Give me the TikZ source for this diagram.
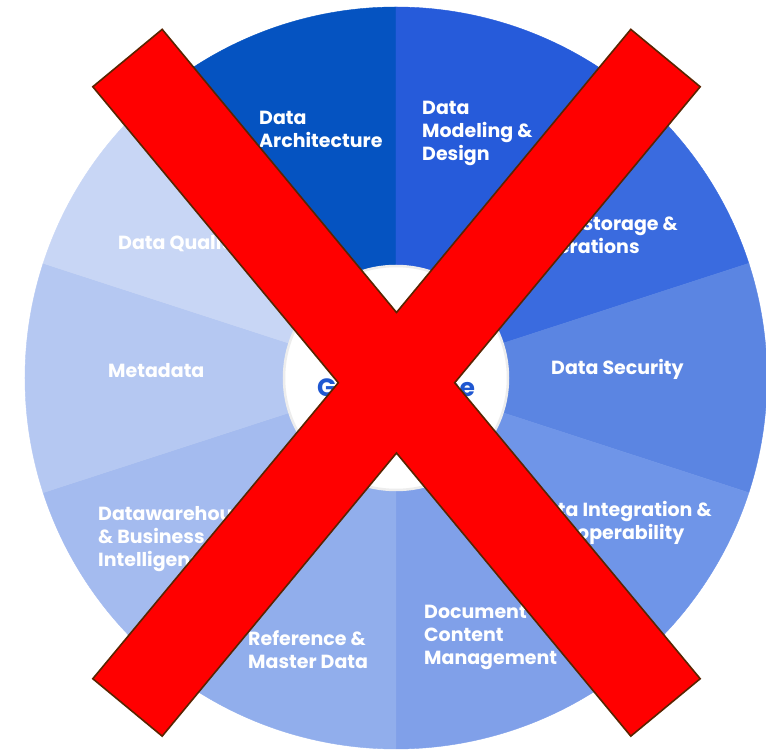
\documentclass[tikz,border=0pt]{standalone}
\usepackage{fontspec}
\newfontfamily\wheelfont{Poppins}

\definecolor{archblue}{HTML}{0553C1}
\definecolor{modelblue}{HTML}{265BDA}
\definecolor{storeblue}{HTML}{3A6BDF}
\definecolor{secblue}{HTML}{5B85E2}
\definecolor{integblue}{HTML}{6F95E8}
\definecolor{docblue}{HTML}{80A0E9}
\definecolor{refblue}{HTML}{91AEEC}
\definecolor{dwblue}{HTML}{A4BBEF}
\definecolor{metablue}{HTML}{B5C8F2}
\definecolor{qualblue}{HTML}{C8D6F5}
\definecolor{govblue}{HTML}{1F57D1}
\definecolor{crossred}{HTML}{FF0000}
\definecolor{crossrim}{HTML}{5A2400}

\tikzset{
  seglabel/.style={text=white, font=\wheelfont\bfseries\fontsize{19}{23}\selectfont,
    align=left, anchor=west, inner sep=0pt},
  hublabel/.style={text=govblue, font=\wheelfont\bfseries\fontsize{25}{30}\selectfont, inner sep=0pt},
  crossbar/.style={fill=crossred, draw=crossrim, line width=1.6pt, line join=miter}
}

\begin{document}
\begin{tikzpicture}[x=1pt,y=1pt]
\useasboundingbox (-396,-373) rectangle (370,378);

% wheel segments, 36 degrees each
\foreach \a/\c in {90/archblue, 54/modelblue, 18/storeblue, -18/secblue, -54/integblue,
                   -90/docblue, -126/refblue, -162/dwblue, 162/metablue, 126/qualblue}
  \filldraw[fill=\c, draw=\c, line width=0.4pt] (0,0) -- (\a:371)
    arc[start angle=\a, delta angle=36, radius=371] -- cycle;

% hub
\node[circle, fill=white, draw=black!7, line width=2.5pt, minimum size=224pt] (hub) at (0,0) {};
\node[hublabel] (gov) at (0,-10) {Governance};

% segment labels
\node[seglabel] (arch) at (-137,248.5) {Data\\Architecture};
\node[seglabel] (model) at (26,244.5) {Data\\Modeling \&\\Design};
\node[seglabel] (store) at (134,140.5) {Data Storage \&\\Operations};
\node[seglabel] (sec) at (155,9) {Data Security};
\node[seglabel] (integ) at (135,-144.5) {Data Integration \&\\Interoperability};
\node[seglabel] (doc) at (28,-259.5) {Document\\Content\\Management};
\node[seglabel] (ref) at (-148,-271.5) {Reference \&\\Master Data};
\node[seglabel] (dwbi) at (-298,-161) {Datawarehousing\\\& Business\\Intelligence};
\node[seglabel] (meta) at (-288,7) {Metadata};
\node[seglabel] (qual) at (-278,134) {Data Quality};

% the red cross over it all
\begin{scope}[shift={(0.5,-4.75)}]
  \draw[crossbar] (-303.7,296) -- (-234.3,353.4) -- (0,70.25) -- (234.3,353.4)
    -- (303.7,296) -- (58.2,0) -- (303.7,-296) -- (234.3,-353.4) -- (0,-70.25)
    -- (-234.3,-353.4) -- (-303.7,-296) -- (-58.2,0) -- cycle;
\end{scope}

\end{tikzpicture}
\end{document}
